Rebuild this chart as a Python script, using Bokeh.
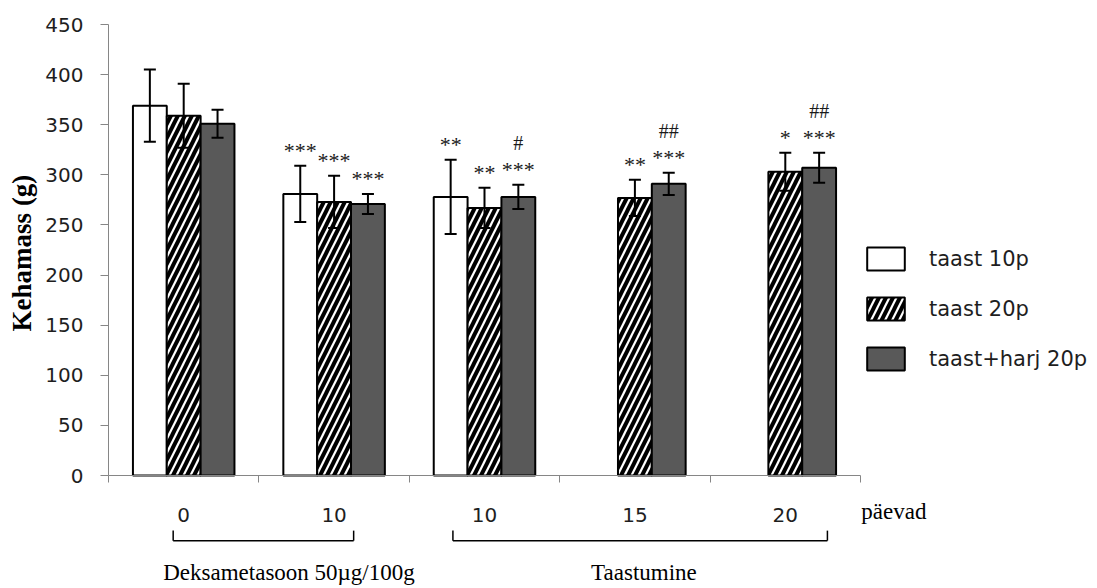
import math
from bokeh.plotting import figure
from bokeh.models import (ColumnDataSource, Range1d, FixedTicker, Whisker, TeeHead,
                          Legend, LegendItem, Label, Arrow)
from bokeh.core.properties import value
from bokeh.embed import file_html
from bokeh.resources import INLINE

# ---------------- data ----------------
groups = ["0", "10", "10", "15", "20"]
series_names = ["taast 10p", "taast 20p", "taast+harj 20p"]

taast10_mean = [369, 281, 278, None, None]
taast10_err = [36, 28, 37, None, None]
taast20_mean = [359, 273, 267, 277, 303]
taast20_err = [32, 26, 20, 18, 19]
harj20_mean = [351, 271, 278, 291, 307]
harj20_err = [14, 10, 12, 11, 15]

taast10_stars = ["", "***", "**", "", ""]
taast20_stars = ["", "***", "**", "**", "*"]
harj20_stars = ["", "***", "***", "***", "***"]
harj20_hash = ["", "", "#", "##", "##"]

y_ticks = [0, 50, 100, 150, 200, 250, 300, 350, 400, 450]
y_label = "Kehamass (g)"
x_unit_label = "päevad"
# (text, bracket start, bracket end, text centre) in group units
brackets = [("Deksametasoon 50µg/100g", 0.43, 1.63, 1.20),
            ("Taastumine", 2.29, 4.78, 3.56)]

# ---------------- geometry (frame covers the whole canvas) ----------------
W, H = 1090, 586
X0_PX, Y0_PX = 108, 475             # canvas position of data origin
PX_X = 150.4                        # px per group
PX_Y = 451 / 450                    # px per gram
x_min, x_max = -X0_PX / PX_X, (W - X0_PX) / PX_X
y_min, y_max = (Y0_PX - H) / PX_Y, Y0_PX / PX_Y

p = figure(width=W, height=H, output_backend="svg", toolbar_location=None, title=None,
           x_range=Range1d(x_min, x_max), y_range=Range1d(y_min, y_max), min_border=0)
p.outline_line_color = None
p.grid.visible = False
p.background_fill_color = "white"
p.border_fill_color = "white"

AXIS_COL = "#868686"
LABEL_COL = "#1e1e1e"

# y axis at x = 0
ya = p.yaxis[0]
ya.fixed_location = 0
ya.bounds = (0, 450)
ya.ticker = FixedTicker(ticks=y_ticks, minor_ticks=[])
ya.axis_line_color = AXIS_COL
ya.major_tick_line_color = AXIS_COL
ya.major_tick_out = 8
ya.major_tick_in = 0
ya.minor_tick_line_color = None
ya.major_label_text_font = "DejaVu Sans"
ya.major_label_text_font_size = "20px"
ya.major_label_text_color = LABEL_COL
ya.major_label_standoff = 17

# x axis at y = 0: labels at group centres, tick marks at group boundaries
xa = p.xaxis[0]
centers = [i + 0.5 for i in range(len(groups))]
bounds = [float(i) for i in range(len(groups) + 1)]
xa.fixed_location = 0
xa.bounds = (0, len(groups))
xa.ticker = FixedTicker(ticks=centers, minor_ticks=bounds)
xa.major_label_overrides = {c: g for c, g in zip(centers, groups)}
xa.axis_line_color = AXIS_COL
xa.major_tick_line_color = None
xa.major_tick_out = 0
xa.major_tick_in = 0
xa.minor_tick_line_color = AXIS_COL
xa.minor_tick_out = 7
xa.minor_tick_in = 0
xa.major_label_text_font = "DejaVu Sans"
xa.major_label_text_font_size = "20px"
xa.major_label_text_color = LABEL_COL
xa.major_label_standoff = 25

# y axis title (rotated text, centred on the axis extent)
p.add_layout(Label(x=(21 - X0_PX) / PX_X, y=222, text=y_label, angle=math.pi / 2,
                   text_align="center", text_baseline="middle",
                   text_font="Liberation Serif", text_font_style="bold",
                   text_font_size="27px", text_color="black"))

# ---------------- bars ----------------
BW = 0.225
offsets = [-BW, 0.0, BW]
styles = [
    dict(fill_color="white", hatch_pattern=None),
    dict(fill_color="white", hatch_pattern="/", hatch_color="black",
         hatch_scale=14, hatch_weight=4),
    dict(fill_color="#595959", hatch_pattern=None),
]
means = [taast10_mean, taast20_mean, harj20_mean]
errs = [taast10_err, taast20_err, harj20_err]
stars = [taast10_stars, taast20_stars, harj20_stars]
hashes = [[""] * 5, [""] * 5, harj20_hash]

renderers = []
for k in range(3):
    xs, tops, ups, los, st, hs = [], [], [], [], [], []
    for i, m in enumerate(means[k]):
        if m is None:
            continue
        xs.append(centers[i] + offsets[k])
        tops.append(m)
        ups.append(m + errs[k][i])
        los.append(m - errs[k][i])
        st.append(stars[k][i])
        hs.append(hashes[k][i])
    src = ColumnDataSource(dict(x=xs, top=tops, upper=ups, lower=los, stars=st, hashes=hs))
    r = p.vbar(x="x", top="top", bottom=0, width=BW, source=src,
               line_color="black", line_width=2, **styles[k])
    renderers.append(r)
    wh = Whisker(source=src, base="x", upper="upper", lower="lower", dimension="height",
                 line_color="black", line_width=2, level="annotation",
                 upper_head=TeeHead(size=12, line_color="black", line_width=2),
                 lower_head=TeeHead(size=12, line_color="black", line_width=2))
    p.add_layout(wh)
    p.text(x="x", y="upper", text="stars", source=src, text_align="center",
           text_baseline="alphabetic", y_offset=-15, text_color="#1a1a1a",
           text_font=value("Liberation Serif"), text_font_size="22px")
    p.text(x="x", y="upper", text="hashes", source=src, text_align="center",
           text_baseline="alphabetic", y_offset=-42, text_color="#1a1a1a",
           text_font=value("Liberation Serif"), text_font_size="20px")

# ---------------- legend ----------------
legend = Legend(items=[LegendItem(label=n, renderers=[r]) for n, r in zip(series_names, renderers)],
                location=(862, H - 373), glyph_width=47, glyph_height=29, spacing=21,
                padding=0, margin=0, label_standoff=20,
                label_text_font="DejaVu Sans", label_text_font_size="21px",
                label_text_color=LABEL_COL,
                border_line_alpha=0, background_fill_alpha=0)
p.add_layout(legend)

# ---------------- brackets and bottom texts ----------------
y_line, y_tip = -65, -55
for text, x0, x1, xc in brackets:
    for (xa0, ya0, xa1, ya1) in [(x0, y_line, x1, y_line), (x0, y_line, x0, y_tip),
                                 (x1, y_line, x1, y_tip)]:
        p.add_layout(Arrow(x_start=xa0, y_start=ya0, x_end=xa1, y_end=ya1,
                           start=None, end=None, line_color="black", line_width=1.5))
    p.add_layout(Label(x=xc, y=-97, text=text, text_align="center",
                       text_baseline="middle", text_font="Liberation Serif",
                       text_font_size="23px", text_color="black"))

p.add_layout(Label(x=5.005, y=-36, text=x_unit_label, text_align="left",
                   text_baseline="middle", text_font="Liberation Serif",
                   text_font_size="23px", text_color="black"))

open("out.html", "w").write(file_html(p, INLINE))
